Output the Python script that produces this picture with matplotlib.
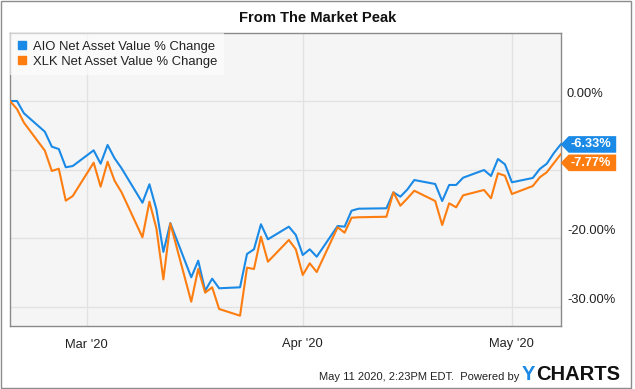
import numpy as np
import pandas as pd
import matplotlib
matplotlib.use("Agg")
import matplotlib.pyplot as plt
import matplotlib.dates as mdates
from matplotlib.patches import Polygon, Rectangle
from matplotlib.lines import Line2D
from matplotlib.transforms import ScaledTranslation

plt.rcParams['font.family'] = ['Liberation Sans', 'DejaVu Sans']

# trading days from the market peak (Feb 19 2020) to May 8 2020
dates = pd.to_datetime([
    "2020-02-19", "2020-02-20", "2020-02-21", "2020-02-24", "2020-02-25", "2020-02-26", "2020-02-27", "2020-02-28",
    "2020-03-02", "2020-03-03", "2020-03-04", "2020-03-05", "2020-03-06", "2020-03-09", "2020-03-10", "2020-03-11",
    "2020-03-12", "2020-03-13", "2020-03-16", "2020-03-17", "2020-03-18", "2020-03-19", "2020-03-20", "2020-03-23",
    "2020-03-24", "2020-03-25", "2020-03-26", "2020-03-27", "2020-03-30", "2020-03-31", "2020-04-01", "2020-04-02",
    "2020-04-03", "2020-04-06", "2020-04-07", "2020-04-08", "2020-04-09", "2020-04-13", "2020-04-14", "2020-04-15",
    "2020-04-16", "2020-04-17", "2020-04-20", "2020-04-21", "2020-04-22", "2020-04-23", "2020-04-24", "2020-04-27",
    "2020-04-28", "2020-04-29", "2020-04-30", "2020-05-01", "2020-05-04", "2020-05-05", "2020-05-06", "2020-05-07",
    "2020-05-08",
])

aio = [0.0, 0.0, -1.79, -4.48, -6.66, -7.00, -9.66, -9.48,
       -7.19, -9.14, -6.41, -8.35, -9.80, -14.83, -12.14, -15.79,
       -22.0, -17.8, -25.70, -23.28, -27.65, -25.90, -27.30, -27.16,
       -22.30, -21.62, -17.97, -20.16, -18.32, -19.53, -22.45, -21.62,
       -22.70, -18.22, -18.32, -15.99, -15.70, -15.64, -13.31, -13.95,
       -12.90, -11.52, -12.10, -14.58, -12.24, -12.24, -11.18, -10.06,
       -10.93, -8.45, -9.23, -11.85, -11.22, -9.91, -9.14, -7.62,
       -6.33]

xlk = [0.0, -1.17, -3.16, -7.24, -10.20, -9.87, -14.53, -13.85,
       -8.99, -12.49, -8.85, -11.62, -13.30, -19.87, -14.68, -18.56,
       -26.0, -17.86, -29.26, -24.49, -27.94, -27.16, -30.32, -31.30,
       -24.30, -24.49, -19.78, -23.43, -20.26, -21.62, -25.36, -23.66,
       -24.93, -18.41, -19.20, -17.01, -16.95, -16.87, -13.31, -15.26,
       -14.20, -13.08, -14.58, -18.08, -14.91, -15.50, -13.75, -12.97,
       -14.18, -10.54, -10.89, -13.56, -12.39, -11.12, -10.39, -9.08,
       -7.77]

names = ["AIO Net Asset Value % Change", "XLK Net Asset Value % Change"]
yticks = [0, -10, -20, -30]
ytick_labels = ["0.00%", "", "-20.00%", "-30.00%"]  # -10% label sits under the tags

blue = "#1a8ae6"
orange = "#fd7d10"

W, H = 635, 389
fig = plt.figure(figsize=(W / 100, H / 100), dpi=100)
ax = fig.add_axes([10 / W, 1 - 326 / H, 550.7 / W, (326 - 33.3) / H])
ax.set_facecolor("#f5f5f5")

ax.plot(dates, aio, color=blue, lw=1.5, zorder=3)
ax.plot(dates, xlk, color=orange, lw=1.5, zorder=3)

ax.set_xlim(dates[0], dates[-1])
ax.set_ylim(-32.8, 9.87)

ax.xaxis.set_major_locator(mdates.MonthLocator())
ax.xaxis.set_major_formatter(mdates.DateFormatter("%b '%y"))
ax.set_yticks(yticks)
ax.set_yticklabels(ytick_labels)
ax.yaxis.tick_right()
ax.tick_params(axis="both", length=0, labelsize=9.3, labelcolor="#222222")
ax.tick_params(axis="x", pad=9)
ax.tick_params(axis="y", pad=4.5)
# labels sit just above their gridline
for lab in ax.get_yticklabels():
    lab.set_verticalalignment("center")
    lab.set_transform(lab.get_transform() + ScaledTranslation(0, 0.07, fig.dpi_scale_trans))

ax.grid(True, color="#e2e2e2", lw=1)
ax.set_axisbelow(True)
for s in ax.spines.values():
    s.set_color("#8a8a8a")
    s.set_linewidth(1)

handles = [Line2D([], [], marker="s", ls="none", color=blue, markersize=6),
           Line2D([], [], marker="s", ls="none", color=orange, markersize=6)]
leg = ax.legend(handles, names, loc="upper left", bbox_to_anchor=(0, 1), borderaxespad=0,
                fontsize=9.4, frameon=True, fancybox=False, framealpha=0.6, facecolor="white",
                edgecolor="none", handlelength=0.8, handletextpad=0.4, borderpad=0.55,
                labelspacing=0.25)
for t in leg.get_texts():
    t.set_color("#222222")

fig.text(0.5, 1 - 17.5 / H, "From The Market Peak", ha="center", va="center",
         fontsize=10.6, fontweight="bold", color="#111111")

# value tags at the right edge
x_end = mdates.date2num(dates[-1])
_, y_blue = ax.transData.transform((x_end, aio[-1]))
_, y_orange = ax.transData.transform((x_end, xlk[-1]))
y_orange = min(y_orange, y_blue - 18.4)
x0 = ax.get_position().x1 * W
for yy, val, col in [(y_blue, aio[-1], blue), (y_orange, xlk[-1], orange)]:
    pts = np.array([[x0, yy], [x0 + 8, yy + 8.3], [x0 + 55.5, yy + 8.3],
                    [x0 + 55.5, yy - 8.3], [x0 + 8, yy - 8.3]])
    pts[:, 0] /= W
    pts[:, 1] /= H
    fig.add_artist(Polygon(pts, closed=True, facecolor=col, edgecolor="none",
                           transform=fig.transFigure, zorder=5))
    fig.text((x0 + 30) / W, yy / H, "%.2f%%" % val, ha="center", va="center",
             color="white", fontsize=9.2, fontweight="bold", zorder=6)

# footer
fig.text(519 / W, 8.5 / H, "May 11 2020, 2:23PM EDT.  Powered by", ha="right", va="baseline",
         fontsize=8, color="#222222")
fig.text(522 / W, 8.5 / H, "Y", ha="left", va="baseline", fontsize=14.5,
         fontweight="bold", color="#1a8ae6")
fig.text(536 / W, 8.5 / H, "CHARTS", ha="left", va="baseline", fontsize=14.5,
         fontweight="bold", color="#111111")

fig.add_artist(Rectangle((0.5 / W, 1.5 / H), 630 / W, 387 / H, transform=fig.transFigure,
                         fill=False, edgecolor="#8c8c8c", lw=1))

fig.savefig("out.png", dpi=100)
